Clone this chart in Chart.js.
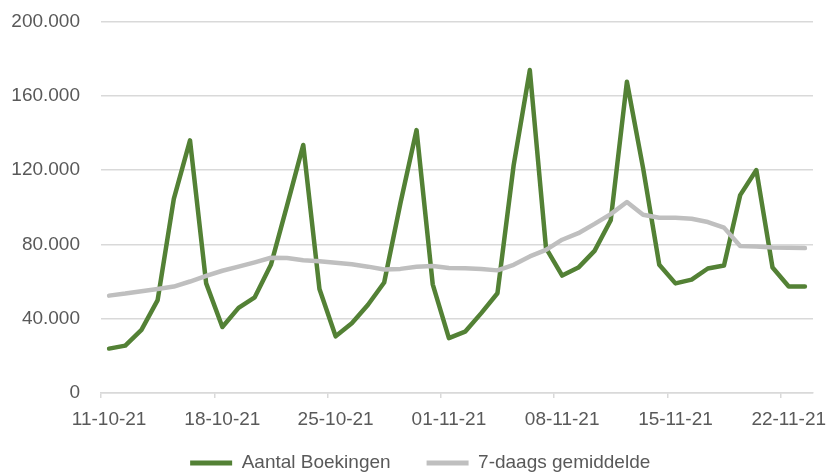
<!DOCTYPE html>
<html>
<head>
<meta charset="utf-8">
<script src="https://cdn.jsdelivr.net/npm/chart.js@4"></script>
<style>
  html, body { margin: 0; padding: 0; background: #ffffff; }
  #wrap { width: 828px; height: 474px; position: relative; }
</style>
</head>
<body>
<div id="wrap"><canvas id="c"></canvas></div>
<script>
const dates = [
  '11-10-21','12-10-21','13-10-21','14-10-21','15-10-21','16-10-21','17-10-21',
  '18-10-21','19-10-21','20-10-21','21-10-21','22-10-21','23-10-21','24-10-21',
  '25-10-21','26-10-21','27-10-21','28-10-21','29-10-21','30-10-21','31-10-21',
  '01-11-21','02-11-21','03-11-21','04-11-21','05-11-21','06-11-21','07-11-21',
  '08-11-21','09-11-21','10-11-21','11-11-21','12-11-21','13-11-21','14-11-21',
  '15-11-21','16-11-21','17-11-21','18-11-21','19-11-21','20-11-21','21-11-21',
  '22-11-21','23-11-21'
];
const tickDates = ['11-10-21','18-10-21','25-10-21','01-11-21','08-11-21','15-11-21','22-11-21'];
const boekingen = [
  23900, 25500, 34000, 50000, 104500, 136000, 59000,
  35500, 45800, 51500, 69000, 101000, 133500, 56000,
  30500, 37500, 47500, 59500, 102000, 141500, 58500,
  29500, 33000, 43000, 53700, 122500, 173800, 78000,
  63200, 67500, 76500, 93000, 167500, 121000, 69000,
  59000, 61000, 67000, 68600, 106500, 120000, 67500,
  57300, 57300
];
const gemiddelde = [
  52400, 53500, 54800, 56000, 57300, 60000, 63000,
  65800, 68000, 70300, 72800, 72700, 71500, 70900,
  70100, 69300, 68000, 66500, 66800, 67900, 68300,
  67300, 67200, 66700, 66000, 69000, 73500, 77000,
  82500, 86000, 91000, 96300, 102800, 95900, 94300,
  94300, 93800, 92000, 89000, 79100, 78900, 78300,
  78200, 78000
];
const seriesNames = ['Aantal Boekingen', '7-daags gemiddelde'];
const yTicks = [0, 40000, 80000, 120000, 160000, 200000];

const GREEN = '#538135';
const GREY = '#bfbfbf';
const GRID = '#d9d9d9';
const TEXT = '#595959';
const FONT = 'Liberation Sans, Arial, sans-serif';

function fmt(v) {
  return String(v).replace(/\B(?=(\d{3})+(?!\d))/g, '.');
}

const legendShift = {
  id: 'legendShift',
  afterLayout(chart) {
    if (chart.legend) {
      chart.legend.top -= 20.5;
      chart.legend.left += 13.7;
      chart.legend.right += 13.7;
    }
  }
};

new Chart(document.getElementById('c'), {
  type: 'line',
  plugins: [legendShift],
  data: {
    labels: dates,
    datasets: [
      {
        label: seriesNames[0],
        data: boekingen,
        borderColor: GREEN,
        backgroundColor: GREEN,
        borderWidth: 4.5,
        pointRadius: 0,
        tension: 0,
        borderJoinStyle: 'round',
        borderCapStyle: 'round',
        order: 2
      },
      {
        label: seriesNames[1],
        data: gemiddelde,
        borderColor: GREY,
        backgroundColor: GREY,
        borderWidth: 4.5,
        pointRadius: 0,
        tension: 0,
        borderJoinStyle: 'round',
        borderCapStyle: 'round',
        order: 1
      }
    ]
  },
  options: {
    responsive: true,
    maintainAspectRatio: false,
    animation: false,
    layout: { padding: { left: 0, right: 15, top: 12, bottom: 0 } },
    plugins: {
      tooltip: { enabled: false },
      legend: {
        position: 'bottom',
        align: 'center',
        maxHeight: 36,
        labels: {
          color: TEXT,
          font: { family: FONT, size: 19 },
          boxWidth: 42,
          boxHeight: 5,
          padding: 36,
          sort: (a, b) => a.datasetIndex - b.datasetIndex,
          generateLabels: (chart) => {
            const items = Chart.defaults.plugins.legend.labels.generateLabels(chart);
            items.forEach(it => {
              const ds = chart.data.datasets[it.datasetIndex];
              it.fillStyle = ds.borderColor;
              it.strokeStyle = ds.borderColor;
              it.lineWidth = 0;
            });
            return items;
          }
        }
      }
    },
    scales: {
      x: {
        type: 'category',
        offset: true,
        afterFit: (s) => { s.height = 45; },
        grid: {
          offset: true,
          drawOnChartArea: false,
          drawTicks: true,
          tickLength: 5,
          lineWidth: 1.5,
          color: (ctx) => (ctx.index % 7 === 0 ? GRID : 'rgba(0,0,0,0)')
        },
        border: { display: true, color: GRID, width: 1.5 },
        ticks: {
          autoSkip: false,
          maxRotation: 0,
          minRotation: 0,
          padding: 10,
          color: TEXT,
          font: { family: FONT, size: 19 },
          callback: function (value, index) {
            const lbl = this.getLabelForValue(value);
            return tickDates.includes(lbl) ? lbl : '';
          }
        }
      },
      y: {
        min: yTicks[0],
        max: yTicks[yTicks.length - 1],
        afterFit: (s) => { s.width = 101; },
        afterBuildTicks: (s) => { s.ticks = yTicks.map(v => ({ value: v })); },
        grid: {
          color: GRID,
          lineWidth: 1.5,
          drawTicks: true,
          tickLength: 11,
          tickColor: 'rgba(0,0,0,0)'
        },
        border: { display: false },
        ticks: {
          padding: 10,
          color: TEXT,
          font: { family: FONT, size: 19 },
          callback: (v) => fmt(v)
        }
      }
    }
  }
});
</script>
</body>
</html>
